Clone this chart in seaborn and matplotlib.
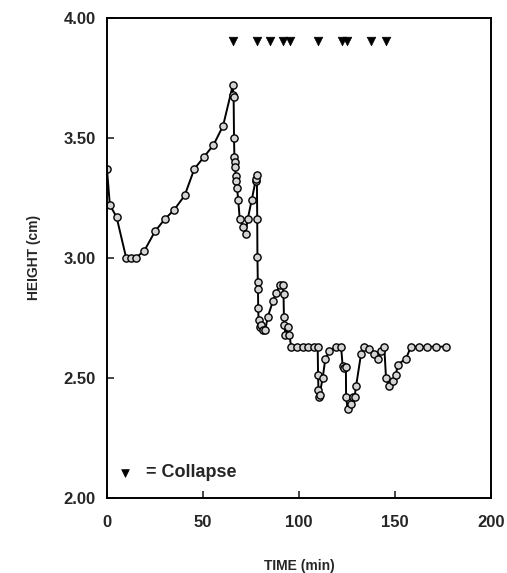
import numpy as np
import pandas as pd
import matplotlib
matplotlib.use("Agg")
import matplotlib.pyplot as plt
import seaborn as sns

# height of the specimen over time
time_min = [0, 1.5, 5, 10, 12.5, 15, 19.5, 25, 30, 35, 40.5, 45.5, 50.5, 55.5, 60.5,
            65.6, 65.8, 66, 66.2, 66.4, 66.6, 66.8, 67, 67.4, 67.8, 68.4, 69.2, 71.0, 72.2,
            73.3, 75.4, 77.4, 77.9, 78.1, 78.3, 78.4, 78.6, 78.7, 78.8, 79, 79.5, 80.5, 81.5,
            82.5, 83.8, 86.5, 88.2, 90, 91.5, 92, 92.2, 92.5, 93, 94.2, 95, 96, 99, 102, 105,
            108, 109.8, 110, 110.2, 110.5, 110.8, 112.4, 113.8, 115.9, 119.4, 122, 122.8,
            123.5, 124.5, 124.6, 125.4, 127, 128, 129, 129.8, 132.4, 134.1, 136.7, 139.3,
            141, 142.8, 144.5, 145.4, 147.1, 148.8, 150.6, 151.4, 155.8, 158.4, 162.7, 167,
            171.4, 176.6]
height_cm = [3.37, 3.22, 3.17, 3.00, 3.00, 3.00, 3.03, 3.11, 3.16, 3.20, 3.26, 3.37, 3.42,
             3.47, 3.55, 3.72, 3.68, 3.67, 3.50, 3.42, 3.40, 3.38, 3.34, 3.32, 3.29, 3.24,
             3.16, 3.13, 3.10, 3.16, 3.24, 3.32, 3.33, 3.345, 3.16, 3.005, 2.90, 2.87, 2.79,
             2.74, 2.71, 2.72, 2.70, 2.70, 2.755, 2.82, 2.855, 2.885, 2.885, 2.85, 2.755, 2.72,
             2.68, 2.71, 2.68, 2.63, 2.63, 2.63, 2.63, 2.63, 2.63, 2.51, 2.45, 2.42, 2.43,
             2.50, 2.58, 2.61, 2.63, 2.63, 2.55, 2.54, 2.545, 2.42, 2.37, 2.39, 2.42, 2.42,
             2.465, 2.60, 2.63, 2.62, 2.60, 2.58, 2.61, 2.63, 2.50, 2.465, 2.485, 2.51, 2.555,
             2.58, 2.63, 2.63, 2.63, 2.63, 2.63]

# collapse events (drawn as a row of triangles near the top)
collapse_times = [65.6, 78.3, 84.7, 91.6, 95.5, 109.8, 122.3, 125.0, 137.6, 145.4]
collapse_level = 3.905

xticks = [0, 50, 100, 150, 200]
yticks = [2.0, 2.5, 3.0, 3.5, 4.0]

sns.set_theme(style="ticks")
plt.rcParams["font.family"] = ["Liberation Sans", "DejaVu Sans"]

df = pd.DataFrame({"time": time_min, "height": height_cm})
col = pd.DataFrame({"time": collapse_times, "height": [collapse_level] * len(collapse_times)})

fig = plt.figure(figsize=(5.07, 5.73), dpi=100)
ax = fig.add_axes([0.211, 0.131, 0.757, 0.838])

sns.lineplot(data=df, x="time", y="height", sort=False, estimator=None, ax=ax,
             color="black", linewidth=1.4, marker="o", markersize=5.2,
             markerfacecolor="#d4d4d4", markeredgecolor="black", markeredgewidth=1.0)
sns.scatterplot(data=col, x="time", y="height", ax=ax, marker="v", s=38,
                color="black", edgecolor="black", label="= Collapse")

ax.set_xlim(0, 200)
ax.set_ylim(2.0, 4.0)
ax.set_xticks(xticks)
ax.set_yticks(yticks)
ax.set_xticklabels([str(t) for t in xticks], fontsize=12, fontweight="bold")
ax.set_yticklabels([f"{t:.2f}" for t in yticks], fontsize=12, fontweight="bold")
ax.tick_params(direction="in", length=5, width=1.2)
ax.tick_params(axis="x", pad=12)
ax.tick_params(axis="y", pad=8)
for s in ax.spines.values():
    s.set_visible(True)
    s.set_linewidth(1.4)
    s.set_color("black")

ax.set_xlabel("TIME (min)", fontsize=10, fontweight="bold", labelpad=21)
ax.set_ylabel("HEIGHT (cm)", fontsize=10, fontweight="bold", labelpad=16)

leg = ax.legend(loc="center left", bbox_to_anchor=(0.023, 0.052), frameon=False,
                prop={"size": 13, "weight": "bold"}, handlelength=1.0,
                handletextpad=0.7, borderpad=0, borderaxespad=0, markerscale=0.9)

fig.savefig("out.png", dpi=100)
